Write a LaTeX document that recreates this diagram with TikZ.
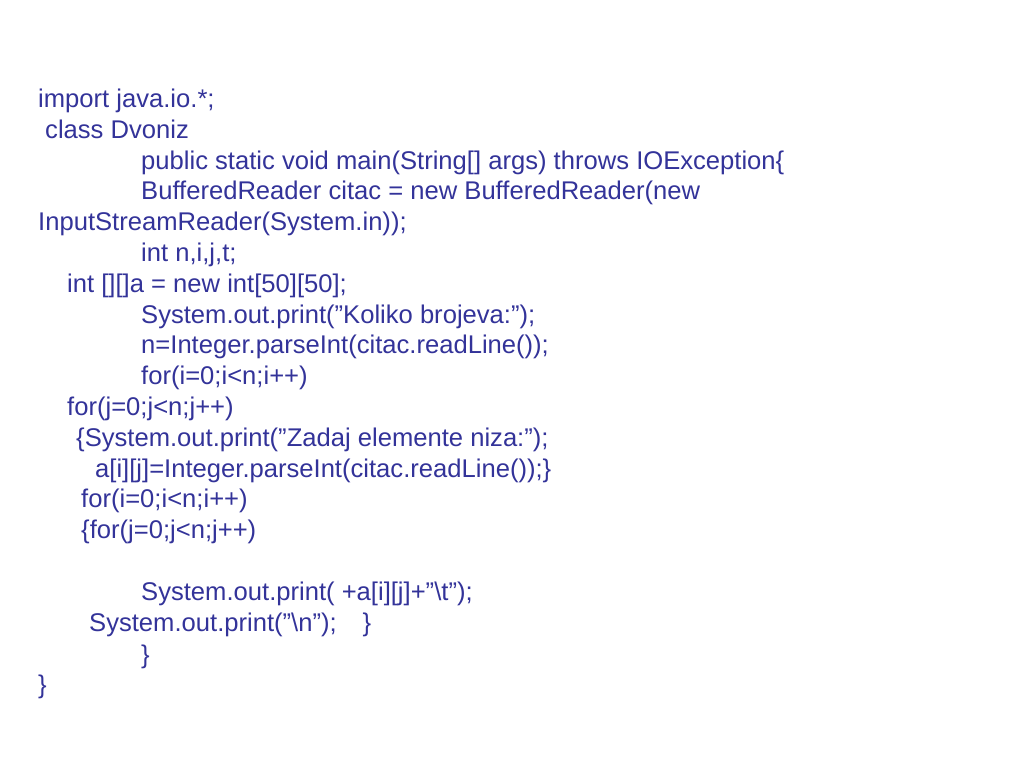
\documentclass[tikz,border=0pt]{standalone}
\usepackage{fontspec}
\setmainfont{Liberation Sans}
\definecolor{code}{HTML}{333399}
\newcommand{\qq}{\symbol{34}}
\begin{document}
\begin{tikzpicture}[x=1pt,y=1pt,line/.style={anchor=base west,inner sep=0pt,text=code,font=\fontsize{25.6}{30}\selectfont}]
\useasboundingbox (0,0) rectangle (1024,768);
\node[line] (l1) at (38,660) {import java.io.*;};
\node[line] (l2) at (45,629) {class Dvoniz};
\node[line] (l3) at (141,598) {public static void main(String[] args) throws IOException\{};
\node[line] (l4) at (141,568) {BufferedReader citac = new BufferedReader(new};
\node[line] (l5) at (38,537) {InputStreamReader(System.in));};
\node[line] (l6) at (141,506) {int n,i,j,t;};
\node[line] (l7) at (67,475) {int [][]a = new int[50][50];};
\node[line] (l8) at (141,444) {System.out.print(\qq Koliko brojeva:\qq);};
\node[line] (l9) at (141,414) {n=Integer.parseInt(citac.readLine());};
\node[line] (l10) at (141,383) {for(i=0;i<n;i++)};
\node[line] (l11) at (67,352) {for(j=0;j<n;j++)};
\node[line] (l12) at (76,321) {\{System.out.print(\qq Zadaj elemente niza:\qq);};
\node[line] (l13) at (95,290) {a[i][j]=Integer.parseInt(citac.readLine());\}};
\node[line] (l14) at (81,260) {for(i=0;i<n;i++)};
\node[line] (l15) at (81,229) {\{for(j=0;j<n;j++)};
\node[line] (l16) at (141,167) {System.out.print( +a[i][j]+\qq\textbackslash t\qq);};
\node[line] (l17) at (89,136) {System.out.print(\qq\textbackslash n\qq);\hspace{26pt}\}};
\node[line] (l18) at (141,105) {\}};
\node[line] (l19) at (38,75) {\}};
\end{tikzpicture}
\end{document}
